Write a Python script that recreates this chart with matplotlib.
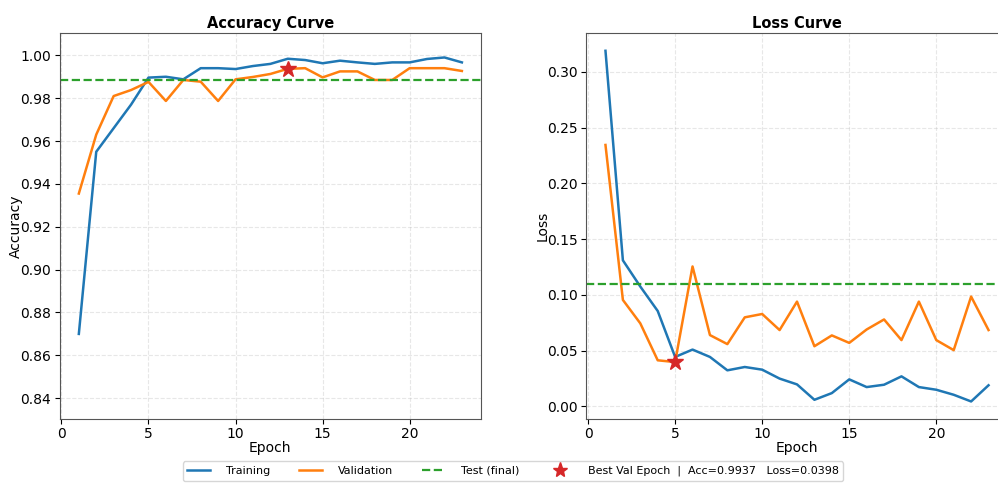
import numpy as np
import matplotlib
matplotlib.use("Agg")
import matplotlib.pyplot as plt
from matplotlib.lines import Line2D

# valores
epochs = list(range(1, 24))
train_acc = [0.870, 0.955, 0.966, 0.977, 0.9896, 0.990, 0.9888, 0.994, 0.994, 0.9936,
             0.995, 0.996, 0.9984, 0.9978, 0.9963, 0.9975, 0.9967, 0.996, 0.9967, 0.9967,
             0.9983, 0.999, 0.9967]
val_acc = [0.9355, 0.963, 0.981, 0.9838, 0.9876, 0.9787, 0.9885, 0.9877, 0.9787, 0.9888,
           0.9899, 0.9913, 0.9937, 0.994, 0.9897, 0.9925, 0.9925, 0.9885, 0.9885, 0.994,
           0.994, 0.994, 0.9927]
train_loss = [0.3188, 0.131, 0.1075, 0.0856, 0.0444, 0.051, 0.0444, 0.0324, 0.0354, 0.033,
              0.025, 0.0198, 0.006, 0.012, 0.0243, 0.0174, 0.0195, 0.027, 0.0174, 0.015,
              0.0105, 0.0045, 0.019]
val_loss = [0.2344, 0.0955, 0.0745, 0.0414, 0.0398, 0.1255, 0.064, 0.0559, 0.0799, 0.0829,
            0.0685, 0.094, 0.054, 0.0637, 0.057, 0.069, 0.078, 0.0595, 0.094, 0.0595,
            0.0505, 0.0985, 0.0685]
test_acc = 0.9885
test_loss = 0.110
best_acc_epoch, best_acc = 13, 0.9937
best_loss_epoch, best_loss = 5, 0.0398

c_train = '#1f77b4'
c_val = '#ff7f0e'
c_test = '#2ca02c'
c_star = '#d62728'

fig = plt.figure(figsize=(9.98, 4.84), dpi=100)
ax1 = fig.add_axes([0.0598, 0.1343, 0.4222, 0.797])
ax2 = fig.add_axes([0.5875, 0.1343, 0.4222, 0.797])

# Curva de acurácia
ax1.plot(epochs, train_acc, color=c_train, lw=1.8)
ax1.plot(epochs, val_acc, color=c_val, lw=1.8)
ax1.axhline(test_acc, color=c_test, ls='--', lw=1.6)
ax1.plot(best_acc_epoch, best_acc, marker='*', color=c_star, markersize=12, ls='none', zorder=5)
ax1.set_ylim(0.8303, 1.0103)
ax1.set_title('Accuracy Curve', fontsize=10.5, fontweight='bold', pad=4)
ax1.set_xlabel('Epoch', labelpad=0)
ax1.set_ylabel('Accuracy', labelpad=-2)

# Curva de perda
ax2.plot(epochs, train_loss, color=c_train, lw=1.8)
ax2.plot(epochs, val_loss, color=c_val, lw=1.8)
ax2.axhline(test_loss, color=c_test, ls='--', lw=1.6)
ax2.plot(best_loss_epoch, best_loss, marker='*', color=c_star, markersize=12, ls='none', zorder=5)
ax2.set_title('Loss Curve', fontsize=10.5, fontweight='bold', pad=4)
ax2.set_xlabel('Epoch', labelpad=0)
ax2.set_ylabel('Loss', labelpad=-2)

for ax in (ax1, ax2):
    ax.grid(True, ls='--', alpha=0.3)
    ax.tick_params(pad=2.5)
    for s in ax.spines.values():
        s.set_color('#555555')

handles = [
    Line2D([], [], color=c_train, lw=1.8),
    Line2D([], [], color=c_val, lw=1.8),
    Line2D([], [], color=c_test, lw=1.6, ls='--'),
    Line2D([], [], color=c_star, marker='*', markersize=11, ls='none'),
]
labels = ['Training', 'Validation', 'Test (final)',
          f'Best Val Epoch  |  Acc={best_acc:.4f}   Loss={best_loss:.4f}']
fig.legend(handles, labels, loc='lower center', ncol=4, fontsize=8,
           handletextpad=1.5, columnspacing=2.6,
           bbox_to_anchor=(0.514, -0.005), frameon=True)

fig.savefig('out.png', dpi=100)
